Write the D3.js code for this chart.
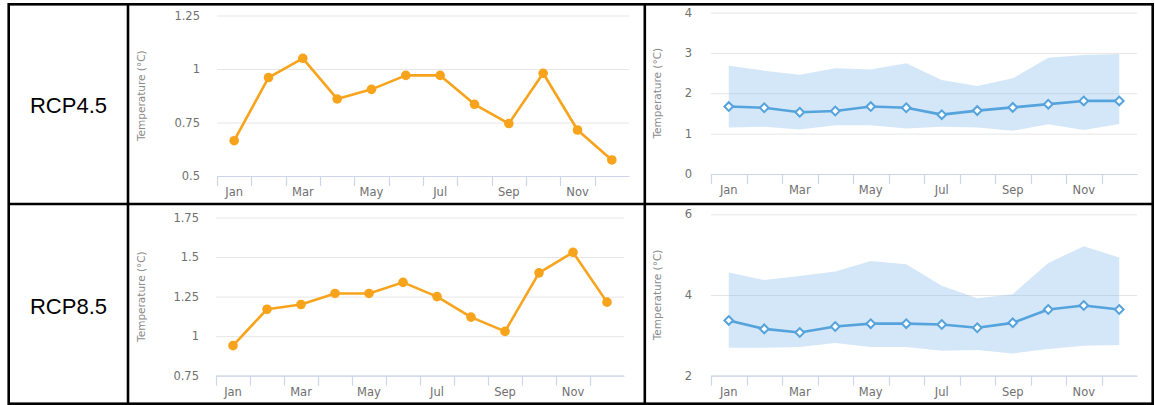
<!DOCTYPE html>
<html>
<head>
<meta charset="utf-8">
<script src="https://cdn.jsdelivr.net/npm/d3@7/dist/d3.min.js"></script>
<style>
  html, body { margin: 0; padding: 0; background: #fff; }
  svg { display: block; }
  text { font-family: "DejaVu Sans", "Lucida Grande", sans-serif; }
</style>
</head>
<body>
<svg id="chart" width="1155" height="405"></svg>
<script>
// ---- data ----
const months = ["Jan","Feb","Mar","Apr","May","Jun","Jul","Aug","Sep","Oct","Nov","Dec"];
const labelMonths = ["Jan","Mar","May","Jul","Sep","Nov"];
const rowLabels = ["RCP4.5", "RCP8.5"];
const yTitle = "Temperature (°C)";

// left column: single-model line
const rcp45Line = [0.665, 0.96, 1.05, 0.86, 0.905, 0.97, 0.97, 0.835, 0.745, 0.98, 0.715, 0.575];
const rcp85Line = [0.94, 1.17, 1.2, 1.27, 1.27, 1.34, 1.25, 1.12, 1.03, 1.40, 1.53, 1.215];
const rcp45LineTicks = [0.5, 0.75, 1, 1.25];
const rcp85LineTicks = [0.75, 1, 1.25, 1.5, 1.75];

// right column: ensemble mean with range
const rcp45Mean = [1.67, 1.64, 1.53, 1.56, 1.67, 1.64, 1.47, 1.57, 1.65, 1.73, 1.81, 1.81];
const rcp45Low  = [1.15, 1.17, 1.10, 1.21, 1.21, 1.13, 1.17, 1.15, 1.07, 1.23, 1.09, 1.24];
const rcp45High = [2.68, 2.56, 2.46, 2.62, 2.59, 2.74, 2.33, 2.18, 2.37, 2.88, 2.95, 2.97];
const rcp45BandTicks = [0, 1, 2, 3, 4];

const rcp85Mean = [3.37, 3.16, 3.07, 3.22, 3.29, 3.29, 3.27, 3.19, 3.31, 3.64, 3.74, 3.64];
const rcp85Low  = [2.69, 2.69, 2.71, 2.81, 2.71, 2.71, 2.62, 2.64, 2.55, 2.66, 2.74, 2.76];
const rcp85High = [4.56, 4.37, 4.47, 4.58, 4.84, 4.76, 4.23, 3.92, 4.02, 4.79, 5.21, 4.93];
const rcp85BandTicks = [2, 4, 6];

// ---- styles ----
const orange = "#f7a31c";
const blue = "#55a3dc";
const bandFill = "rgba(124,181,236,0.33)";
const gridColor = "#e6e6e6";
const axisColor = "#ccd6eb";
const labelColor = "#707070";
const titleColor = "#8a8a8a";

const svg = d3.select("#chart");

// ---- table frame ----
const frame = svg.append("g").attr("fill", "none").attr("stroke", "#000").attr("stroke-width", 2.6);
frame.append("rect").attr("x", 8.7).attr("y", 4.3).attr("width", 1144).attr("height", 399.4);
frame.append("line").attr("x1", 128).attr("x2", 128).attr("y1", 4).attr("y2", 404);
frame.append("line").attr("x1", 644.8).attr("x2", 644.8).attr("y1", 4).attr("y2", 404);
frame.append("line").attr("x1", 8).attr("x2", 1154).attr("y1", 204).attr("y2", 204);

const rowCenters = [105, 306];
rowLabels.forEach((t, i) => {
  svg.append("text").attr("x", 68.5).attr("y", rowCenters[i]).attr("dy", "0.36em")
    .attr("text-anchor", "middle").attr("font-family", "Liberation Sans, Arial, sans-serif")
    .style("font-family", "'Liberation Sans', Arial, sans-serif")
    .attr("font-size", 22).attr("fill", "#000").text(t);
});

function panel(cfg) {
  const g = svg.append("g");
  const x = d3.scaleBand().domain(months).range([cfg.left, cfg.right]).padding(0);
  const y = d3.scaleLinear().domain([cfg.ticks[0], cfg.ticks[cfg.ticks.length - 1]]).range([cfg.bottom, cfg.top]);
  const cx = m => x(m) + x.bandwidth() / 2;

  // y grid + labels
  const yAxis = g.append("g").attr("transform", `translate(${cfg.left},0)`)
    .call(d3.axisLeft(y).tickValues(cfg.ticks).tickSize(-(cfg.right - cfg.left)).tickPadding(cfg.labelGap).tickFormat(d => String(d)));
  yAxis.select(".domain").remove();
  yAxis.selectAll(".tick line").attr("stroke", gridColor).attr("stroke-width", 1);
  yAxis.selectAll(".tick text").attr("fill", labelColor).attr("font-size", 11.5)
    .style("font-family", "'DejaVu Sans', sans-serif");

  // y title
  g.append("text")
    .attr("transform", `translate(${cfg.titleX},${(cfg.top + cfg.bottom) / 2}) rotate(-90)`)
    .attr("text-anchor", "middle").attr("dy", "0.35em")
    .attr("fill", titleColor).attr("font-size", 10.5).text(yTitle);

  // x axis line
  const xAxis = g.append("g").attr("transform", `translate(0,${cfg.bottom})`)
    .call(d3.axisBottom(x).tickValues(labelMonths).tickSize(0).tickPadding(12));
  xAxis.select(".domain").attr("stroke", axisColor).attr("stroke-width", 1.2);
  xAxis.selectAll(".tick text").attr("fill", labelColor).attr("font-size", 11.5)
    .style("font-family", "'DejaVu Sans', sans-serif");
  // tick marks at category boundaries
  g.append("g").selectAll("line").data(months).join("line")
    .attr("x1", m => Math.round(x(m)) + 0.5).attr("x2", m => Math.round(x(m)) + 0.5)
    .attr("y1", cfg.bottom).attr("y2", cfg.bottom + 10)
    .attr("stroke", axisColor).attr("stroke-width", 1.2);

  if (cfg.type === "line") {
    const line = d3.line().x((d, i) => cx(months[i])).y(d => y(d));
    g.append("path").datum(cfg.values).attr("d", line)
      .attr("fill", "none").attr("stroke", orange).attr("stroke-width", 2.6).attr("stroke-linejoin", "round");
    g.append("g").selectAll("circle").data(cfg.values).join("circle")
      .attr("cx", (d, i) => cx(months[i])).attr("cy", d => y(d)).attr("r", 4.8).attr("fill", orange);
  } else {
    const area = d3.area().x((d, i) => cx(months[i])).y0(d => y(d[0])).y1(d => y(d[1]));
    const bandData = cfg.low.map((l, i) => [l, cfg.high[i]]);
    g.append("path").datum(bandData).attr("d", area).attr("fill", bandFill);
    const line = d3.line().x((d, i) => cx(months[i])).y(d => y(d));
    g.append("path").datum(cfg.mean).attr("d", line)
      .attr("fill", "none").attr("stroke", blue).attr("stroke-width", 2.6).attr("stroke-linejoin", "round");
    g.append("g").selectAll("path").data(cfg.mean).join("path")
      .attr("d", d3.symbol(d3.symbolSquare, 38))
      .attr("transform", (d, i) => `translate(${cx(months[i])},${y(d)}) rotate(45)`)
      .attr("fill", "#fff").attr("stroke", blue).attr("stroke-width", 2);
  }
}

panel({ type: "line", values: rcp45Line, ticks: rcp45LineTicks,
  left: 217, right: 629, top: 15.5, bottom: 176, labelGap: 17, titleX: 141.5 });
panel({ type: "line", values: rcp85Line, ticks: rcp85LineTicks,
  left: 216, right: 624, top: 217.5, bottom: 375.7, labelGap: 17, titleX: 141.5 });
panel({ type: "band", mean: rcp45Mean, low: rcp45Low, high: rcp45High, ticks: rcp45BandTicks,
  left: 711, right: 1137, top: 12.5, bottom: 174, labelGap: 19, titleX: 657.5 });
panel({ type: "band", mean: rcp85Mean, low: rcp85Low, high: rcp85High, ticks: rcp85BandTicks,
  left: 711, right: 1137, top: 214.3, bottom: 375.7, labelGap: 19, titleX: 657.5 });
</script>
</body>
</html>
